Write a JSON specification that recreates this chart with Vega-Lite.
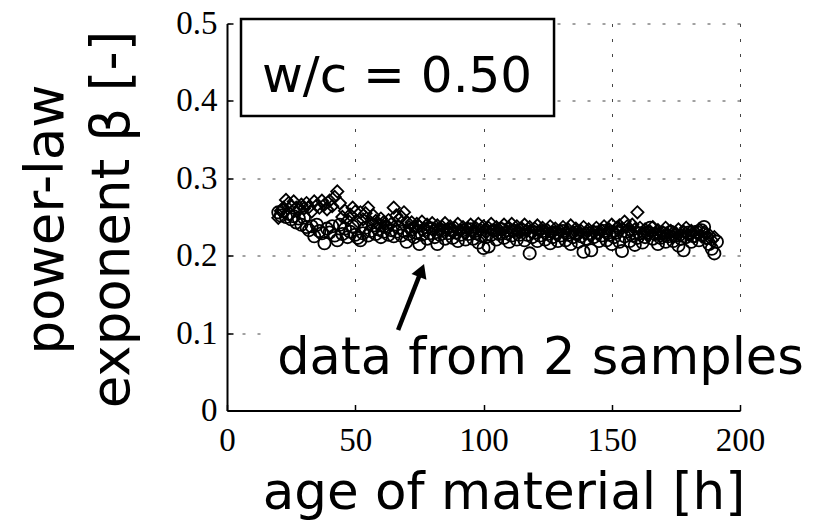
{
 "$schema": "https://vega.github.io/schema/vega-lite/v6.json",
 "width": 513, "height": 387,
 "autosize": {"type": "none"},
 "padding": {"left": 227, "top": 23.5, "right": 85, "bottom": 112.5},
 "config": {"view": {"stroke": null}, "font": "Liberation Serif"},
 "layer": [
  {
   "data": {"values": [
{"s":"A","h":20,"b":0.249},{"s":"A","h":21,"b":0.258},{"s":"A","h":22,"b":0.262},{"s":"A","h":23,"b":0.272},{"s":"A","h":24,"b":0.268},{"s":"A","h":25,"b":0.264},{"s":"A","h":26,"b":0.270},{"s":"A","h":27,"b":0.262},{"s":"A","h":28,"b":0.259},{"s":"A","h":29,"b":0.266},
{"s":"A","h":30,"b":0.261},{"s":"A","h":31,"b":0.268},{"s":"A","h":32,"b":0.263},{"s":"A","h":33,"b":0.257},{"s":"A","h":34,"b":0.270},{"s":"A","h":35,"b":0.265},{"s":"A","h":36,"b":0.262},{"s":"A","h":37,"b":0.271},{"s":"A","h":38,"b":0.266},{"s":"A","h":39,"b":0.260},
{"s":"A","h":40,"b":0.271},{"s":"A","h":41,"b":0.264},{"s":"A","h":42,"b":0.276},{"s":"A","h":43,"b":0.283},{"s":"A","h":44,"b":0.268},{"s":"A","h":45,"b":0.250},{"s":"A","h":46,"b":0.258},{"s":"A","h":47,"b":0.246},{"s":"A","h":48,"b":0.253},{"s":"A","h":49,"b":0.262},
{"s":"A","h":50,"b":0.257},{"s":"A","h":51,"b":0.244},{"s":"A","h":52,"b":0.256},{"s":"A","h":53,"b":0.247},{"s":"A","h":54,"b":0.255},{"s":"A","h":55,"b":0.262},{"s":"A","h":56,"b":0.243},{"s":"A","h":57,"b":0.252},{"s":"A","h":58,"b":0.245},{"s":"A","h":59,"b":0.240},
{"s":"A","h":60,"b":0.248},{"s":"A","h":61,"b":0.243},{"s":"A","h":62,"b":0.238},{"s":"A","h":63,"b":0.246},{"s":"A","h":64,"b":0.241},{"s":"A","h":65,"b":0.262},{"s":"A","h":66,"b":0.252},{"s":"A","h":67,"b":0.247},{"s":"A","h":68,"b":0.250},{"s":"A","h":69,"b":0.256},
{"s":"A","h":70,"b":0.244},{"s":"A","h":71,"b":0.237},{"s":"A","h":72,"b":0.243},{"s":"A","h":73,"b":0.236},{"s":"A","h":74,"b":0.241},{"s":"A","h":75,"b":0.238},{"s":"A","h":76,"b":0.244},{"s":"A","h":77,"b":0.235},{"s":"A","h":78,"b":0.240},{"s":"A","h":79,"b":0.237},
{"s":"A","h":80,"b":0.242},{"s":"A","h":81,"b":0.234},{"s":"A","h":82,"b":0.239},{"s":"A","h":83,"b":0.231},{"s":"A","h":84,"b":0.237},{"s":"A","h":85,"b":0.242},{"s":"A","h":86,"b":0.233},{"s":"A","h":87,"b":0.238},{"s":"A","h":88,"b":0.230},{"s":"A","h":89,"b":0.236},
{"s":"A","h":90,"b":0.241},{"s":"A","h":91,"b":0.232},{"s":"A","h":92,"b":0.237},{"s":"A","h":93,"b":0.229},{"s":"A","h":94,"b":0.235},{"s":"A","h":95,"b":0.240},{"s":"A","h":96,"b":0.231},{"s":"A","h":97,"b":0.236},{"s":"A","h":98,"b":0.241},{"s":"A","h":99,"b":0.233},
{"s":"A","h":100,"b":0.238},{"s":"A","h":101,"b":0.230},{"s":"A","h":102,"b":0.236},{"s":"A","h":103,"b":0.241},{"s":"A","h":104,"b":0.232},{"s":"A","h":105,"b":0.237},{"s":"A","h":106,"b":0.229},{"s":"A","h":107,"b":0.235},{"s":"A","h":108,"b":0.240},{"s":"A","h":109,"b":0.231},
{"s":"A","h":110,"b":0.236},{"s":"A","h":111,"b":0.241},{"s":"A","h":112,"b":0.233},{"s":"A","h":113,"b":0.238},{"s":"A","h":114,"b":0.230},{"s":"A","h":115,"b":0.235},{"s":"A","h":116,"b":0.240},{"s":"A","h":117,"b":0.232},{"s":"A","h":118,"b":0.237},{"s":"A","h":119,"b":0.229},
{"s":"A","h":120,"b":0.235},{"s":"A","h":121,"b":0.239},{"s":"A","h":122,"b":0.231},{"s":"A","h":123,"b":0.236},{"s":"A","h":124,"b":0.228},{"s":"A","h":125,"b":0.233},{"s":"A","h":126,"b":0.238},{"s":"A","h":127,"b":0.230},{"s":"A","h":128,"b":0.235},{"s":"A","h":129,"b":0.227},
{"s":"A","h":130,"b":0.232},{"s":"A","h":131,"b":0.237},{"s":"A","h":132,"b":0.229},{"s":"A","h":133,"b":0.234},{"s":"A","h":134,"b":0.239},{"s":"A","h":135,"b":0.230},{"s":"A","h":136,"b":0.235},{"s":"A","h":137,"b":0.227},{"s":"A","h":138,"b":0.232},{"s":"A","h":139,"b":0.237},
{"s":"A","h":140,"b":0.229},{"s":"A","h":141,"b":0.234},{"s":"A","h":142,"b":0.226},{"s":"A","h":143,"b":0.231},{"s":"A","h":144,"b":0.236},{"s":"A","h":145,"b":0.228},{"s":"A","h":146,"b":0.233},{"s":"A","h":147,"b":0.238},{"s":"A","h":148,"b":0.229},{"s":"A","h":149,"b":0.234},
{"s":"A","h":150,"b":0.240},{"s":"A","h":151,"b":0.231},{"s":"A","h":152,"b":0.236},{"s":"A","h":153,"b":0.239},{"s":"A","h":154,"b":0.235},{"s":"A","h":155,"b":0.244},{"s":"A","h":156,"b":0.238},{"s":"A","h":157,"b":0.232},{"s":"A","h":158,"b":0.240},{"s":"A","h":159,"b":0.234},
{"s":"A","h":160,"b":0.256},{"s":"A","h":161,"b":0.236},{"s":"A","h":162,"b":0.229},{"s":"A","h":163,"b":0.234},{"s":"A","h":164,"b":0.226},{"s":"A","h":165,"b":0.231},{"s":"A","h":166,"b":0.237},{"s":"A","h":167,"b":0.228},{"s":"A","h":168,"b":0.233},{"s":"A","h":169,"b":0.225},
{"s":"A","h":170,"b":0.230},{"s":"A","h":171,"b":0.236},{"s":"A","h":172,"b":0.227},{"s":"A","h":173,"b":0.232},{"s":"A","h":174,"b":0.224},{"s":"A","h":175,"b":0.229},{"s":"A","h":176,"b":0.234},{"s":"A","h":177,"b":0.226},{"s":"A","h":178,"b":0.231},{"s":"A","h":179,"b":0.236},
{"s":"A","h":180,"b":0.227},{"s":"A","h":181,"b":0.232},{"s":"A","h":182,"b":0.224},{"s":"A","h":183,"b":0.229},{"s":"A","h":184,"b":0.234},{"s":"A","h":185,"b":0.225},{"s":"A","h":186,"b":0.230},{"s":"A","h":187,"b":0.222},{"s":"A","h":188,"b":0.227},{"s":"A","h":189,"b":0.220},
{"s":"A","h":190,"b":0.224},
{"s":"B","h":20,"b":0.256},{"s":"B","h":21,"b":0.252},{"s":"B","h":22,"b":0.258},{"s":"B","h":23,"b":0.250},{"s":"B","h":24,"b":0.254},{"s":"B","h":25,"b":0.247},{"s":"B","h":26,"b":0.251},{"s":"B","h":27,"b":0.243},{"s":"B","h":28,"b":0.248},{"s":"B","h":29,"b":0.240},
{"s":"B","h":30,"b":0.249},{"s":"B","h":31,"b":0.237},{"s":"B","h":32,"b":0.233},{"s":"B","h":33,"b":0.238},{"s":"B","h":34,"b":0.225},{"s":"B","h":35,"b":0.240},{"s":"B","h":36,"b":0.232},{"s":"B","h":37,"b":0.229},{"s":"B","h":38,"b":0.216},{"s":"B","h":39,"b":0.235},
{"s":"B","h":40,"b":0.230},{"s":"B","h":41,"b":0.238},{"s":"B","h":42,"b":0.226},{"s":"B","h":43,"b":0.220},{"s":"B","h":44,"b":0.240},{"s":"B","h":45,"b":0.228},{"s":"B","h":46,"b":0.235},{"s":"B","h":47,"b":0.224},{"s":"B","h":48,"b":0.231},{"s":"B","h":49,"b":0.238},
{"s":"B","h":50,"b":0.227},{"s":"B","h":51,"b":0.223},{"s":"B","h":52,"b":0.220},{"s":"B","h":53,"b":0.229},{"s":"B","h":54,"b":0.236},{"s":"B","h":55,"b":0.226},{"s":"B","h":56,"b":0.232},{"s":"B","h":57,"b":0.239},{"s":"B","h":58,"b":0.228},{"s":"B","h":59,"b":0.234},
{"s":"B","h":60,"b":0.224},{"s":"B","h":61,"b":0.231},{"s":"B","h":62,"b":0.237},{"s":"B","h":63,"b":0.227},{"s":"B","h":64,"b":0.233},{"s":"B","h":65,"b":0.225},{"s":"B","h":66,"b":0.231},{"s":"B","h":67,"b":0.236},{"s":"B","h":68,"b":0.226},{"s":"B","h":69,"b":0.232},
{"s":"B","h":70,"b":0.218},{"s":"B","h":71,"b":0.228},{"s":"B","h":72,"b":0.234},{"s":"B","h":73,"b":0.224},{"s":"B","h":74,"b":0.230},{"s":"B","h":75,"b":0.215},{"s":"B","h":76,"b":0.227},{"s":"B","h":77,"b":0.233},{"s":"B","h":78,"b":0.222},{"s":"B","h":79,"b":0.229},
{"s":"B","h":80,"b":0.235},{"s":"B","h":81,"b":0.224},{"s":"B","h":82,"b":0.215},{"s":"B","h":83,"b":0.227},{"s":"B","h":84,"b":0.233},{"s":"B","h":85,"b":0.222},{"s":"B","h":86,"b":0.229},{"s":"B","h":87,"b":0.234},{"s":"B","h":88,"b":0.223},{"s":"B","h":89,"b":0.230},
{"s":"B","h":90,"b":0.219},{"s":"B","h":91,"b":0.227},{"s":"B","h":92,"b":0.233},{"s":"B","h":93,"b":0.221},{"s":"B","h":94,"b":0.228},{"s":"B","h":95,"b":0.234},{"s":"B","h":96,"b":0.222},{"s":"B","h":97,"b":0.229},{"s":"B","h":98,"b":0.217},{"s":"B","h":99,"b":0.226},
{"s":"B","h":100,"b":0.210},{"s":"B","h":101,"b":0.224},{"s":"B","h":102,"b":0.212},{"s":"B","h":103,"b":0.227},{"s":"B","h":104,"b":0.233},{"s":"B","h":105,"b":0.221},{"s":"B","h":106,"b":0.228},{"s":"B","h":107,"b":0.234},{"s":"B","h":108,"b":0.223},{"s":"B","h":109,"b":0.229},
{"s":"B","h":110,"b":0.218},{"s":"B","h":111,"b":0.226},{"s":"B","h":112,"b":0.232},{"s":"B","h":113,"b":0.221},{"s":"B","h":114,"b":0.227},{"s":"B","h":115,"b":0.233},{"s":"B","h":116,"b":0.220},{"s":"B","h":117,"b":0.227},{"s":"B","h":118,"b":0.203},{"s":"B","h":119,"b":0.224},
{"s":"B","h":120,"b":0.230},{"s":"B","h":121,"b":0.219},{"s":"B","h":122,"b":0.226},{"s":"B","h":123,"b":0.232},{"s":"B","h":124,"b":0.221},{"s":"B","h":125,"b":0.228},{"s":"B","h":126,"b":0.216},{"s":"B","h":127,"b":0.224},{"s":"B","h":128,"b":0.230},{"s":"B","h":129,"b":0.219},
{"s":"B","h":130,"b":0.226},{"s":"B","h":131,"b":0.232},{"s":"B","h":132,"b":0.220},{"s":"B","h":133,"b":0.227},{"s":"B","h":134,"b":0.215},{"s":"B","h":135,"b":0.224},{"s":"B","h":136,"b":0.230},{"s":"B","h":137,"b":0.218},{"s":"B","h":138,"b":0.225},{"s":"B","h":139,"b":0.205},
{"s":"B","h":140,"b":0.222},{"s":"B","h":141,"b":0.229},{"s":"B","h":142,"b":0.207},{"s":"B","h":143,"b":0.224},{"s":"B","h":144,"b":0.230},{"s":"B","h":145,"b":0.219},{"s":"B","h":146,"b":0.226},{"s":"B","h":147,"b":0.232},{"s":"B","h":148,"b":0.220},{"s":"B","h":149,"b":0.227},
{"s":"B","h":150,"b":0.215},{"s":"B","h":151,"b":0.224},{"s":"B","h":152,"b":0.230},{"s":"B","h":153,"b":0.218},{"s":"B","h":154,"b":0.206},{"s":"B","h":155,"b":0.225},{"s":"B","h":156,"b":0.231},{"s":"B","h":157,"b":0.219},{"s":"B","h":158,"b":0.226},{"s":"B","h":159,"b":0.214},
{"s":"B","h":160,"b":0.223},{"s":"B","h":161,"b":0.229},{"s":"B","h":162,"b":0.217},{"s":"B","h":163,"b":0.224},{"s":"B","h":164,"b":0.230},{"s":"B","h":165,"b":0.236},{"s":"B","h":166,"b":0.222},{"s":"B","h":167,"b":0.228},{"s":"B","h":168,"b":0.215},{"s":"B","h":169,"b":0.223},
{"s":"B","h":170,"b":0.229},{"s":"B","h":171,"b":0.218},{"s":"B","h":172,"b":0.225},{"s":"B","h":173,"b":0.231},{"s":"B","h":174,"b":0.219},{"s":"B","h":175,"b":0.226},{"s":"B","h":176,"b":0.213},{"s":"B","h":177,"b":0.222},{"s":"B","h":178,"b":0.207},{"s":"B","h":179,"b":0.224},
{"s":"B","h":180,"b":0.230},{"s":"B","h":181,"b":0.218},{"s":"B","h":182,"b":0.225},{"s":"B","h":183,"b":0.231},{"s":"B","h":184,"b":0.220},{"s":"B","h":185,"b":0.233},{"s":"B","h":186,"b":0.237},{"s":"B","h":187,"b":0.223},{"s":"B","h":188,"b":0.215},{"s":"B","h":189,"b":0.209},
{"s":"B","h":190,"b":0.203},{"s":"B","h":191,"b":0.218}
   ]},
   "mark": {"type": "point", "filled": false, "stroke": "black", "strokeWidth": 1.8, "size": 150, "opacity": 1},
   "encoding": {
    "x": {"field": "h", "type": "quantitative",
     "scale": {"domain": [0, 200], "nice": false, "zero": false},
     "axis": {"values": [0, 50, 100, 150, 200], "title": "age of material [h]",
      "grid": true, "gridDash": [3, 12], "gridColor": "#444", "gridWidth": 1, "gridOpacity": 1,
      "domainColor": "black", "domainWidth": 2, "tickColor": "black", "tickWidth": 1.5, "tickSize": -6,
      "labelPadding": 20, "labelFont": "Liberation Serif", "labelFontSize": 33, "labelColor": "black",
      "labelFlush": false, "labelOverlap": false,
      "titleFont": "DejaVu Sans", "titleFontSize": 51.5, "titleFontWeight": "normal", "titleColor": "black",
      "titleX": 276.5, "titleY": 97.5, "titleBaseline": "alphabetic", "titleAlign": "center"}},
    "y": {"field": "b", "type": "quantitative",
     "scale": {"domain": [0, 0.5], "nice": false},
     "axis": {"values": [0, 0.1, 0.2, 0.3, 0.4, 0.5], "format": "~g", "title": ["power-law", "exponent β [-]"],
      "grid": true, "gridDash": [3, 12], "gridColor": "#444", "gridWidth": 1, "gridOpacity": 1,
      "domainColor": "black", "domainWidth": 2, "tickColor": "black", "tickWidth": 1.5, "tickSize": -6,
      "labelPadding": 16, "labelFont": "Liberation Serif", "labelFontSize": 33, "labelColor": "black",
      "labelOverlap": false, "labelFlush": false,
      "titleFont": "DejaVu Sans", "titleFontSize": 53, "titleFontWeight": "normal", "titleColor": "black",
      "titleAngle": -90, "titleX": -165, "titleY": 195.5, "titleAlign": "center", "titleBaseline": "alphabetic",
      "titleLineHeight": 66}},
    "shape": {"field": "s", "type": "nominal", "scale": {"domain": ["A", "B"], "range": ["diamond", "circle"]}, "legend": null}
   }
  },
  {
   "data": {"values": [{}]},
   "mark": {"type": "rect", "fill": "white", "stroke": null},
   "encoding": {"x": {"datum": 16}, "x2": {"datum": 226}, "y": {"datum": 0.127}, "y2": {"datum": 0.008}}
  },
  {
   "data": {"values": [{}]},
   "mark": {"type": "rect", "fill": "white", "stroke": "black", "strokeWidth": 2.5},
   "encoding": {"x": {"datum": 5.46}, "x2": {"datum": 127.5}, "y": {"datum": 0.5058}, "y2": {"datum": 0.3805}}
  },
  {
   "data": {"values": [{}]},
   "mark": {"type": "text", "font": "DejaVu Sans", "fontSize": 50, "align": "center", "baseline": "alphabetic", "color": "black"},
   "encoding": {"x": {"datum": 66.3}, "y": {"datum": 0.4115}, "text": {"value": "w/c = 0.50"}}
  },
  {
   "data": {"values": [{}]},
   "mark": {"type": "text", "font": "DejaVu Sans", "fontSize": 51, "align": "center", "baseline": "alphabetic", "color": "black"},
   "encoding": {"x": {"datum": 122.2}, "y": {"datum": 0.0472}, "text": {"value": "data from 2 samples"}}
  },
  {
   "data": {"values": [{}]},
   "mark": {"type": "rule", "color": "black", "strokeWidth": 4.5},
   "encoding": {"x": {"datum": 66.7}, "y": {"datum": 0.104}, "x2": {"datum": 75.8}, "y2": {"datum": 0.181}}
  },
  {
   "data": {"values": [{}]},
   "mark": {"type": "point", "shape": "triangle-up", "filled": true, "color": "black", "size": 256, "angle": 21.5, "opacity": 1},
   "encoding": {"x": {"datum": 75.83}, "y": {"datum": 0.181}}
  }
 ]
}
